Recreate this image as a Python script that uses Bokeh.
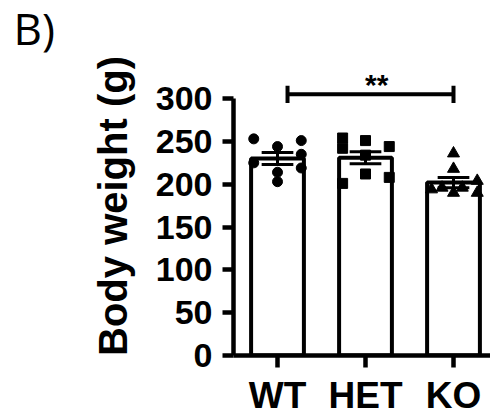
from bokeh.plotting import figure
from bokeh.models import Range1d, FixedTicker, Title
from bokeh.embed import file_html
from bokeh.resources import INLINE
from bokeh.core.properties import value

# ---- data ----
groups = ["WT", "HET", "KO"]
group_pos = [1, 2, 3]
means = [230, 231, 202]
sems = [7, 7, 6]

wt_values = [253, 244, 251, 235, 225, 219, 214, 203]
wt_jitter = [-0.27, 0.0, 0.27, 0.27, -0.27, 0.27, 0.0, 0.0]
het_values = [254, 242, 251, 244, 234, 212, 208, 201]
het_jitter = [-0.26, -0.26, 0.0, 0.27, 0.0, 0.0, 0.27, -0.26]
ko_values = [236, 218, 194, 196, 190, 196, 204, 190]
ko_jitter = [0.0, 0.0, -0.25, -0.13, 0.0, 0.1, 0.27, 0.27]

y_ticks = [0, 50, 100, 150, 200, 250, 300]
sig_x = [1.114, 3.0]
sig_y = 305
sig_text = "**"
y_label = "Body weight (g)"
panel_tag = "B)"

FONT = "Liberation Sans"

p = figure(width=490, height=418,
           x_range=Range1d(0.5, 0.5 + 257 / 88), y_range=Range1d(0, 349.2),
           output_backend="svg", toolbar_location=None,
           min_border_left=233, min_border_right=0,
           min_border_top=54, min_border_bottom=59)
p.outline_line_color = None
p.grid.visible = False
p.background_fill_color = "white"
p.border_fill_color = "white"

# axes
for ax in (p.xaxis, p.yaxis):
    ax.axis_line_width = 4.5
    ax.axis_line_color = "black"
    ax.major_tick_line_width = 4.5
    ax.major_tick_line_color = "black"
    ax.major_tick_in = 0
    ax.major_tick_out = 11
    ax.minor_tick_line_color = None
    ax.major_label_text_font = FONT
    ax.major_label_text_font_style = "bold"
    ax.major_label_text_color = "black"

p.yaxis.ticker = FixedTicker(ticks=y_ticks)
p.yaxis.bounds = (0, 300)
p.yaxis.major_label_text_font_size = "34px"
p.yaxis.major_label_standoff = 10
p.yaxis.axis_label = y_label
p.yaxis.axis_label_text_font = FONT
p.yaxis.axis_label_text_font_style = "bold"
p.yaxis.axis_label_text_font_size = "40px"
p.yaxis.axis_label_text_color = "black"
p.yaxis.axis_label_standoff = 18

p.xaxis.ticker = FixedTicker(ticks=group_pos)
p.xaxis.major_label_overrides = {pos: g for pos, g in zip(group_pos, groups)}
p.xaxis.major_label_text_font_size = "37px"
p.xaxis.major_label_standoff = 7
p.xaxis.major_tick_out = 12

# panel tag as a title
p.add_layout(Title(text=panel_tag, align="left", vertical_align="top", offset=-220,
                   standoff=-6, text_font="Open Sans",
                   text_font_style="normal", text_font_size="44px",
                   text_color="black"), "above")

# bars
p.vbar(x=group_pos, top=means, width=0.6, bottom=0,
       fill_color="white", line_color="black", line_width=4)

# points
p.scatter([g + j for g, j in zip([1] * len(wt_values), wt_jitter)], wt_values,
          marker="circle", size=10, color="black")
p.scatter([g + j for g, j in zip([2] * len(het_values), het_jitter)], het_values,
          marker="square", size=10, color="black")
p.scatter([g + j for g, j in zip([3] * len(ko_values), ko_jitter)], ko_values,
          marker="triangle", size=12, color="black")

# error bars (mean +/- SEM)
lo = [m - s for m, s in zip(means, sems)]
hi = [m + s for m, s in zip(means, sems)]
p.segment(x0=group_pos, y0=lo, x1=group_pos, y1=hi, line_color="black", line_width=3)
cw = 0.18
p.segment(x0=[g - cw for g in group_pos], y0=hi, x1=[g + cw for g in group_pos], y1=hi,
          line_color="black", line_width=3)
p.segment(x0=[g - cw for g in group_pos], y0=lo, x1=[g + cw for g in group_pos], y1=lo,
          line_color="black", line_width=3)

# significance bracket
p.segment(x0=[sig_x[0]], y0=[sig_y], x1=[sig_x[1]], y1=[sig_y], line_color="black", line_width=4)
p.segment(x0=sig_x, y0=[sig_y - 10] * 2, x1=sig_x, y1=[sig_y + 10] * 2,
          line_color="black", line_width=4)
p.text(x=[sum(sig_x) / 2 + 0.07], y=[317], text=[sig_text], text_align="center",
       text_baseline="alphabetic", text_font=value(FONT), text_font_style="bold",
       text_font_size="30px", text_color="black")

open("out.html", "w").write(file_html(p, INLINE))
